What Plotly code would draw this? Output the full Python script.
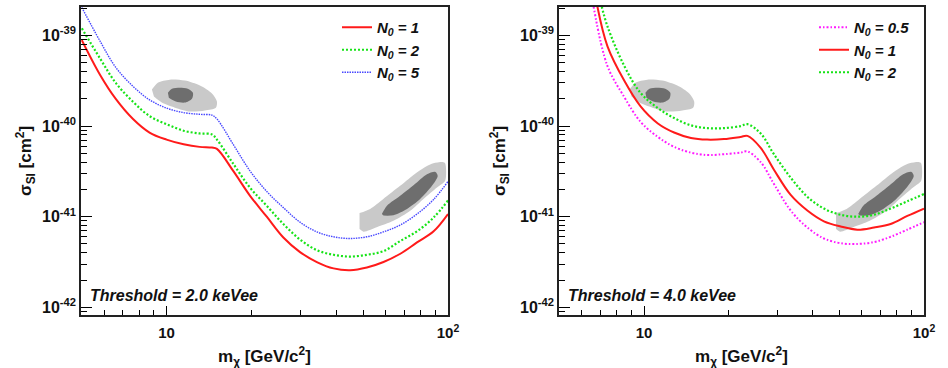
import plotly.graph_objects as go

# ---------------- data ----------------
# Left panel: threshold 2.0 keVee
mass_thr2 = [5.0, 5.8, 6.6, 7.6, 8.7, 10.0, 11.5, 13.1, 14.5, 15.1, 17.3, 19.8, 22.7,
             26.0, 29.8, 34.2, 39.2, 44.9, 51.5, 59.0, 67.7, 77.6, 88.9, 100.0]
sigma_thr2_n1 = [8.9e-40, 3.7e-40, 2.0e-40, 1.2e-40, 8.5e-41, 7.1e-41, 6.3e-41, 5.9e-41,
                 5.8e-41, 5.6e-41, 3.16e-41, 1.70e-41, 1.0e-41, 5.9e-42, 4.07e-42, 3.16e-42,
                 2.69e-42, 2.57e-42, 2.75e-42, 3.16e-42, 3.9e-42, 5.2e-42, 6.9e-42, 1.07e-41]
sigma_thr2_n2 = [1.2e-39, 5.6e-40, 3.0e-40, 1.86e-40, 1.29e-40, 1.05e-40, 8.9e-41, 8.3e-41,
                 8.1e-41, 7.1e-41, 3.8e-41, 2.09e-41, 1.32e-41, 8.3e-42, 5.6e-42, 4.27e-42,
                 3.8e-42, 3.63e-42, 3.8e-42, 4.17e-42, 5.4e-42, 6.9e-42, 9.8e-42, 1.51e-41]
sigma_thr2_n5 = [2.04e-39, 8.7e-40, 4.45e-40, 2.75e-40, 1.95e-40, 1.58e-40, 1.41e-40, 1.35e-40,
                 1.32e-40, 1.2e-40, 6.2e-41, 3.2e-41, 1.9e-41, 1.26e-41, 8.7e-42, 6.8e-42,
                 6.0e-42, 5.75e-42, 6.0e-42, 6.8e-42, 8.1e-42, 1.07e-41, 1.55e-41, 2.45e-41]

# Right panel: threshold 4.0 keVee
mass_thr4_n05 = [6.6, 7.4, 8.5, 9.7, 11.2, 12.8, 14.7, 16.8, 19.3, 22.1, 23.4, 26.1, 29.1,
                 33.4, 38.3, 43.9, 50.4, 57.8, 66.3, 76.0, 87.2, 100.0]
sigma_thr4_n05 = [2.09e-39, 4.6e-40, 2.09e-40, 1.12e-40, 7.6e-41, 5.9e-41, 5.1e-41, 4.8e-41,
                  4.9e-41, 5.1e-41, 5.25e-41, 4.0e-41, 2.3e-41, 1.17e-41, 7.6e-42, 5.75e-42,
                  5.1e-42, 5.0e-42, 5.25e-42, 6.0e-42, 7.2e-42, 8.7e-42]
mass_thr4_n1 = [6.81, 7.4, 8.5, 9.7, 11.2, 12.8, 14.7, 16.8, 19.3, 22.1, 23.4, 26.1, 29.1,
                33.4, 38.3, 43.9, 50.4, 57.8, 66.3, 76.0, 87.2, 100.0]
sigma_thr4_n1 = [2.09e-39, 7.6e-40, 3.16e-40, 1.66e-40, 1.07e-40, 8.5e-41, 7.4e-41, 7.1e-41,
                 7.2e-41, 7.6e-41, 7.8e-41, 5.75e-41, 3.3e-41, 1.74e-41, 1.17e-41, 8.9e-42,
                 7.8e-42, 7.2e-42, 7.6e-42, 8.3e-42, 1.02e-41, 1.23e-41]
mass_thr4_n2 = [7.06, 7.4, 8.5, 9.7, 11.2, 12.8, 14.7, 16.8, 19.3, 22.1, 23.4, 26.1, 29.1,
                33.4, 38.3, 43.9, 50.4, 57.8, 66.3, 76.0, 87.2, 100.0]
sigma_thr4_n2 = [2.09e-39, 1.26e-39, 4.6e-40, 2.34e-40, 1.58e-40, 1.23e-40, 1.02e-40, 9.5e-41,
                 9.5e-41, 1.0e-40, 1.05e-40, 8.3e-41, 4.9e-41, 2.7e-41, 1.66e-41, 1.23e-41,
                 1.05e-41, 1.0e-41, 1.05e-41, 1.23e-41, 1.48e-41, 1.78e-41]

# Allowed regions (grey), outlines
blob_low_outer_mass = [8.87, 9.31, 10.27, 11.62, 13.14, 14.50, 15.10, 14.97, 13.69, 12.11, 10.71, 9.62, 9.02]
blob_low_outer_sigma = [2.53e-40, 3.02e-40, 3.26e-40, 3.18e-40, 2.80e-40, 2.29e-40, 1.87e-40,
                        1.60e-40, 1.49e-40, 1.45e-40, 1.60e-40, 1.82e-40, 2.12e-40]
blob_low_inner_mass = [10.11, 10.45, 11.15, 11.90, 12.41, 12.31, 11.62, 10.79, 10.19]
blob_low_inner_sigma = [2.34e-40, 2.59e-40, 2.66e-40, 2.59e-40, 2.34e-40, 2.01e-40, 1.82e-40, 1.87e-40, 2.06e-40]
blob_high_outer_mass = [48.5, 52.9, 58.9, 67.6, 77.5, 84.2, 88.7, 96.2, 97.7, 97.7, 91.4, 81.8,
                        73.4, 64.0, 55.8, 50.1, 48.5]
blob_high_outer_sigma = [1.1e-41, 1.22e-41, 1.57e-41, 2.19e-41, 3.08e-41, 3.63e-41, 3.89e-41, 4.0e-41,
                         3.9e-41, 2.49e-41, 2.10e-41, 1.57e-41, 1.16e-41, 9.0e-42, 7.65e-42, 6.84e-42, 7.3e-42]
blob_high_inner_mass = [58.2, 60.7, 67.6, 77.5, 84.2, 90.2, 91.9, 87.7, 79.6, 71.5, 64.0, 59.0]
blob_high_inner_sigma = [1.07e-41, 1.32e-41, 1.70e-41, 2.39e-41, 2.94e-41, 3.12e-41, 2.82e-41,
                         2.19e-41, 1.57e-41, 1.22e-41, 1.04e-41, 1.03e-41]

x_tick_vals = [10, 100]
x_tick_text = ["10", "10<sup>2</sup>"]
x_minor_vals = [6, 7, 8, 9, 20, 30, 40, 50, 60, 70, 80, 90]
y_tick_vals = [1e-42, 1e-41, 1e-40, 1e-39]
y_tick_text = ["10<sup>-42</sup>", "10<sup>-41</sup>", "10<sup>-40</sup>", "10<sup>-39</sup>"]
y_minor_vals = [k * 10.0 ** e for e in (-43, -42, -41, -40, -39) for k in range(2, 10)]

thresholds = ["Threshold = 2.0 keVee", "Threshold = 4.0 keVee"]

# ---------------- styles ----------------
RED = "#ff1a1a"
GREEN = "#17e317"
BLUE = "#4848ff"
MAGENTA = "#ff1aff"
LIGHT = "#c9c9c9"
DARK = "#6e6e6e"
FONT = "Liberation Sans"
SM = 1.0

fig = go.Figure()


def add_blobs(xa, ya):
    for mx, sg, col in [(blob_low_outer_mass, blob_low_outer_sigma, LIGHT),
                        (blob_high_outer_mass, blob_high_outer_sigma, LIGHT),
                        (blob_low_inner_mass, blob_low_inner_sigma, DARK),
                        (blob_high_inner_mass, blob_high_inner_sigma, DARK)]:
        fig.add_trace(go.Scatter(x=mx, y=sg, mode="lines", fill="toself", fillcolor=col,
                                 line=dict(width=0, color=col, shape="spline", smoothing=0.8),
                                 showlegend=False, hoverinfo="skip", xaxis=xa, yaxis=ya))


add_blobs("x", "y")
add_blobs("x2", "y2")

name_fmt = "N<sub>0</sub> = {}"
fig.add_trace(go.Scatter(x=mass_thr2, y=sigma_thr2_n1, mode="lines", name=name_fmt.format("1"),
                         line=dict(color=RED, width=2, shape="spline", smoothing=SM),
                         xaxis="x", yaxis="y", legend="legend"))
fig.add_trace(go.Scatter(x=mass_thr2, y=sigma_thr2_n2, mode="lines", name=name_fmt.format("2"),
                         line=dict(color=GREEN, width=2.2, dash="2px,2px", shape="spline", smoothing=SM),
                         xaxis="x", yaxis="y", legend="legend"))
fig.add_trace(go.Scatter(x=mass_thr2, y=sigma_thr2_n5, mode="lines", name=name_fmt.format("5"),
                         line=dict(color=BLUE, width=1.4, dash="1.5px,1px", shape="spline", smoothing=SM),
                         xaxis="x", yaxis="y", legend="legend"))

fig.add_trace(go.Scatter(x=mass_thr4_n05, y=sigma_thr4_n05, mode="lines", name=name_fmt.format("0.5"),
                         line=dict(color=MAGENTA, width=2, dash="2px,2px,1.5px,2px", shape="spline", smoothing=SM),
                         xaxis="x2", yaxis="y2", legend="legend2"))
fig.add_trace(go.Scatter(x=mass_thr4_n1, y=sigma_thr4_n1, mode="lines", name=name_fmt.format("1"),
                         line=dict(color=RED, width=2, shape="spline", smoothing=SM),
                         xaxis="x2", yaxis="y2", legend="legend2"))
fig.add_trace(go.Scatter(x=mass_thr4_n2, y=sigma_thr4_n2, mode="lines", name=name_fmt.format("2"),
                         line=dict(color=GREEN, width=2.2, dash="2px,2px", shape="spline", smoothing=SM),
                         xaxis="x2", yaxis="y2", legend="legend2"))

W, H = 948, 368
xtickfont = dict(family=FONT, size=15, color="#111111", weight="bold")
ytickfont = dict(family=FONT, size=16, color="#111111", weight="bold")

xcommon = dict(type="log", range=[0.696, 2.0], tickmode="array", tickvals=x_tick_vals,
               ticktext=x_tick_text, ticks="inside", ticklen=9, tickwidth=1, tickcolor="black",
               minor=dict(tickmode="array", tickvals=x_minor_vals, ticks="inside", ticklen=5,
                          tickwidth=1, tickcolor="black", showgrid=False),
               showgrid=False, zeroline=False, showline=True, mirror=True, linecolor="#222222",
               linewidth=1.6, tickfont=xtickfont, ticklabelstandoff=3, automargin=False)
ycommon = dict(type="log", range=[-42.085, -38.685], tickmode="array", tickvals=y_tick_vals,
               ticktext=y_tick_text, ticks="inside", ticklen=11, tickwidth=1, tickcolor="black",
               minor=dict(tickmode="array", tickvals=y_minor_vals, ticks="inside", ticklen=6,
                          tickwidth=1, tickcolor="black", showgrid=False),
               showgrid=False, zeroline=False, showline=True, mirror=True, linecolor="#222222",
               linewidth=1.6, tickfont=ytickfont, automargin=False)

legfont = dict(family=FONT, size=15, color="#111111", weight="bold", style="italic")
ydom = [1 - 315 / H, 1 - 7 / H]
fig.update_layout(
    width=W, height=H, margin=dict(l=0, r=0, t=0, b=0),
    paper_bgcolor="white", plot_bgcolor="white", template="none",
    xaxis=dict(domain=[81 / W, 448 / W], anchor="y", **xcommon),
    yaxis=dict(domain=ydom, anchor="x", **ycommon),
    xaxis2=dict(domain=[559 / W, 924 / W], anchor="y2", **xcommon),
    yaxis2=dict(domain=ydom, anchor="x2", **ycommon),
    legend=dict(x=337 / W, y=1 - 11 / H, xanchor="left", yanchor="top", bgcolor="rgba(0,0,0,0)",
                itemwidth=30, tracegroupgap=0, font=legfont),
    legend2=dict(x=814 / W, y=1 - 11 / H, xanchor="left", yanchor="top", bgcolor="rgba(0,0,0,0)",
                 itemwidth=30, tracegroupgap=0, font=legfont),
    showlegend=True,
)

afont = dict(family=FONT, size=16, color="#111111", weight="bold", style="italic")
tfont = dict(family=FONT, size=17, color="#111111", weight="bold")
for i, (xr, yr, ytx) in enumerate([("x", "y", 25), ("x2", "y2", 499)]):
    fig.add_annotation(xref=f"{xr} domain", yref=f"{yr} domain", x=0.02, y=0.062,
                       xanchor="left", yanchor="middle", text=thresholds[i], showarrow=False, font=afont)
    fig.add_annotation(xref=f"{xr} domain", yref="paper", x=0.5, y=1 - 356 / H,
                       xanchor="center", yanchor="middle", showarrow=False,
                       text="m<sub>χ</sub> [GeV/c<sup>2</sup>]", font=tfont)
    fig.add_annotation(xref="paper", yref="paper", x=ytx / W, y=1 - 161 / H,
                       xanchor="center", yanchor="middle", showarrow=False, textangle=-90,
                       text="σ<sub>SI</sub> [cm<sup>2</sup>]", font=tfont)

fig.write_html("out.html", config={"displayModeBar": False},
               post_script="document.body.style.margin='0px';document.body.style.overflow='hidden';")
